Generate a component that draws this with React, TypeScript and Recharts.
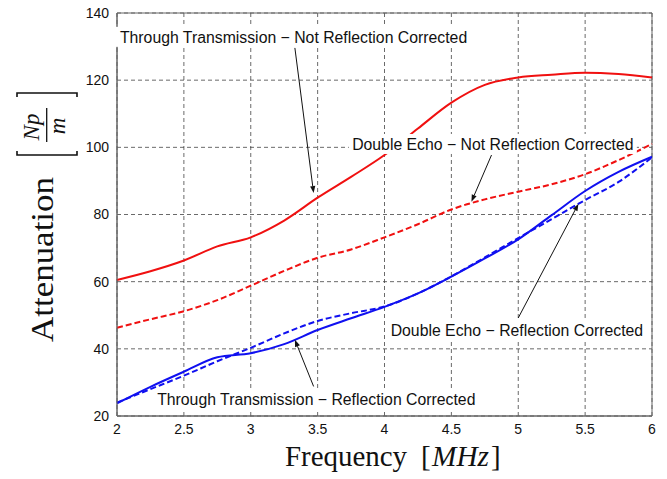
import React from "react";
import {
  LineChart,
  Line,
  XAxis,
  YAxis,
  CartesianGrid,
  ReferenceLine,
  ReferenceDot,
  ReferenceArea,
} from "recharts";

// frequency in MHz, attenuation in Np/m
const freq = [2, 2.25, 2.5, 2.75, 3, 3.25, 3.5, 3.75, 4, 4.25, 4.5, 4.75, 5, 5.25, 5.5, 5.75, 6];
const throughNotCorrected = [60.5, 63.1, 66.3, 70.5, 73.2, 78.2, 85, 91.2, 97.7, 105.6, 113.3, 118.6, 120.8, 121.6, 122.2, 121.8, 120.8];
const echoNotCorrected = [46.3, 48.8, 51.2, 54.5, 58.8, 63.2, 67.1, 69.6, 73.2, 77.1, 81.5, 84.5, 86.8, 89, 92, 96.2, 101];
const throughCorrected = [23.8, 28.7, 33.2, 37.5, 38.7, 41.4, 45.6, 49.1, 52.5, 56.5, 61.5, 66.9, 72.6, 79.8, 87, 92.7, 97.2];
const echoCorrected = [24, 28, 32, 36.3, 40.3, 44.6, 48.3, 50.6, 52.6, 56.5, 61.6, 67.2, 73, 78.6, 84.3, 89.7, 97];

const xTicks = [2, 2.5, 3, 3.5, 4, 4.5, 5, 5.5, 6];
const yTicks = [20, 40, 60, 80, 100, 120, 140];

// annotation text, anchor (center) and arrow from -> to, in data units
const notes = [
  { text: "Through Transmission \u2212 Not Reflection Corrected", x: 3.32, y: 132.9, w: 356, from: [3.33, 129.6], to: [3.47, 86.4] },
  { text: "Double Echo \u2212 Not Reflection Corrected", x: 4.81, y: 101, w: 288, from: [4.8, 97.7], to: [4.65, 83.8] },
  { text: "Double Echo \u2212 Reflection Corrected", x: 4.99, y: 45.4, w: 258, from: [5.0, 49.2], to: [5.45, 83.2] },
  { text: "Through Transmission \u2212 Reflection Corrected", x: 3.49, y: 25, w: 326, from: [3.47, 28.8], to: [3.33, 42.7] },
];

const data = freq.map((f, i) => ({
  f,
  ttnc: throughNotCorrected[i],
  denc: echoNotCorrected[i],
  ttc: throughCorrected[i],
  dec: echoCorrected[i],
}));

const sans = "'Liberation Sans', Arial, sans-serif";
const serif = "'Liberation Serif', 'Times New Roman', serif";

function Arrow(props: any) {
  const { x1, y1, x2, y2 } = props;
  const dx = x2 - x1;
  const dy = y2 - y1;
  const len = Math.sqrt(dx * dx + dy * dy) || 1;
  const ux = dx / len;
  const uy = dy / len;
  const hl = 7;
  const hw = 2.6;
  const bx = x2 - ux * hl;
  const by = y2 - uy * hl;
  return (
    <g>
      <line x1={x1} y1={y1} x2={bx} y2={by} stroke="#111" strokeWidth={1} />
      <polygon
        points={`${x2},${y2} ${bx - uy * hw},${by + ux * hw} ${bx + uy * hw},${by - ux * hw}`}
        fill="#111"
      />
    </g>
  );
}

function noteShape(text: string, w: number) {
  return (props: any) => {
    const { cx, cy } = props;
    return (
      <g>
        <rect x={cx - w / 2} y={cy - 10} width={w} height={20} fill="#fff" />
        <text
          x={cx}
          y={cy}
          dy="0.36em"
          textAnchor="middle"
          fontFamily={sans}
          fontSize={15.8}
          fill="#111"
        >
          {text}
        </text>
      </g>
    );
  };
}

function YLabel() {
  return (
    <g transform="translate(43,342) rotate(-90)">
      <text x={0} y={10} fontFamily={serif} fontSize={31} fill="#111" textLength={165} lengthAdjust="spacingAndGlyphs">
        Attenuation
      </text>
      <path d="M191,-26 H187 V34 H191" fill="none" stroke="#111" strokeWidth={1.6} />
      <path d="M245,-26 H249 V34 H245" fill="none" stroke="#111" strokeWidth={1.6} />
      <text x={215} y={-4} textAnchor="middle" fontFamily={serif} fontStyle="italic" fontSize={23} fill="#111">
        Np
      </text>
      <line x1={200} y1={3.7} x2={234} y2={3.7} stroke="#111" strokeWidth={1.3} />
      <text x={216} y={22} textAnchor="middle" fontFamily={serif} fontStyle="italic" fontSize={23} fill="#111">
        m
      </text>
    </g>
  );
}

function XLabel() {
  return (
    <g fill="#111" fontFamily={serif} fontSize={29}>
      <text x={285} y={466} textLength={122} lengthAdjust="spacingAndGlyphs">
        Frequency
      </text>
      <text x={421} y={466}>[</text>
      <text x={432} y={466} fontStyle="italic" textLength={57} lengthAdjust="spacingAndGlyphs">
        MHz
      </text>
      <text x={491} y={466}>]</text>
    </g>
  );
}

export default function App() {
  return (
    <div style={{ position: "absolute", left: 0, top: 0, background: "#fff" }}>
      <LineChart width={667} height={479} data={data} margin={{ top: 13, right: 15, left: 0, bottom: 0 }}>
        <CartesianGrid stroke="#444" strokeWidth={0.8} strokeDasharray="4 3" horizontalValues={yTicks} verticalValues={xTicks} />
        <XAxis
          dataKey="f"
          type="number"
          domain={[2, 6]}
          ticks={xTicks}
          height={63}
          tickLine={false}
          tickMargin={2}
          axisLine={{ stroke: "#666" }}
          tick={{ fontFamily: sans, fontSize: 14, fill: "#111" }}
          label={{ content: () => <XLabel /> }}
        />
        <YAxis
          type="number"
          domain={[20, 140]}
          ticks={yTicks}
          width={117}
          tickLine={false}
          tickMargin={2}
          axisLine={{ stroke: "#666" }}
          tick={{ fontFamily: sans, fontSize: 14, fill: "#111" }}
          label={{ content: () => <YLabel /> }}
        />
        <Line dataKey="ttnc" type="monotone" stroke="#f01010" strokeWidth={2} dot={false} isAnimationActive={false} />
        <Line dataKey="denc" type="monotone" stroke="#f01010" strokeWidth={2} strokeDasharray="6 3" dot={false} isAnimationActive={false} />
        <Line dataKey="ttc" type="monotone" stroke="#1010f0" strokeWidth={2} dot={false} isAnimationActive={false} />
        <Line dataKey="dec" type="monotone" stroke="#1010f0" strokeWidth={2} strokeDasharray="6 3" dot={false} isAnimationActive={false} />
        <ReferenceArea x1={2} x2={6} y1={20} y2={140} fill="none" stroke="#666" strokeWidth={1} />
        {notes.map((n) => (
          <ReferenceLine
            key={"a" + n.text}
            segment={[
              { x: n.from[0], y: n.from[1] },
              { x: n.to[0], y: n.to[1] },
            ]}
            shape={(p: any) => <Arrow {...p} />}
          />
        ))}
        {notes.map((n) => (
          <ReferenceDot key={"t" + n.text} x={n.x} y={n.y} r={0} shape={noteShape(n.text, n.w)} />
        ))}
      </LineChart>
    </div>
  );
}
